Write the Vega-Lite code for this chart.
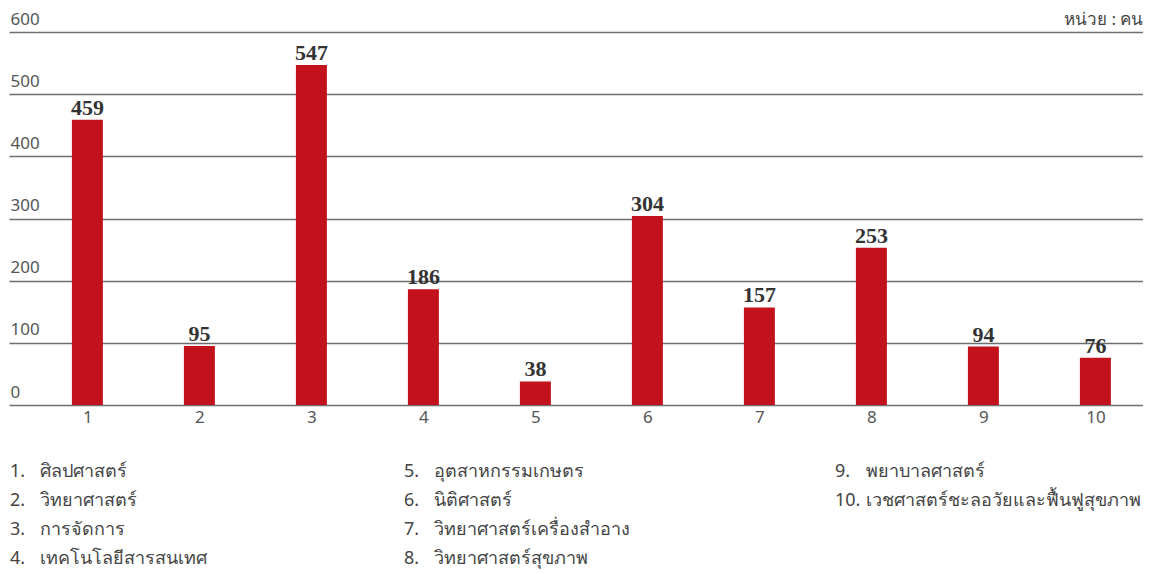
{
  "$schema": "https://vega.github.io/schema/vega-lite/v6.json",
  "padding": {"left": 9, "top": 10, "right": 0, "bottom": 0},
  "background": "white",
  "datasets": {
    "bars": [
      {"n": 1, "v": 459}, {"n": 2, "v": 95}, {"n": 3, "v": 547}, {"n": 4, "v": 186}, {"n": 5, "v": 38},
      {"n": 6, "v": 304}, {"n": 7, "v": 157}, {"n": 8, "v": 253}, {"n": 9, "v": 94}, {"n": 10, "v": 76}
    ],
    "legend": [
      {"col": 1, "row": 1, "num": "1.", "name": "ศิลปศาสตร์"},
      {"col": 1, "row": 2, "num": "2.", "name": "วิทยาศาสตร์"},
      {"col": 1, "row": 3, "num": "3.", "name": "การจัดการ"},
      {"col": 1, "row": 4, "num": "4.", "name": "เทคโนโลยีสารสนเทศ"},
      {"col": 2, "row": 1, "num": "5.", "name": "อุตสาหกรรมเกษตร"},
      {"col": 2, "row": 2, "num": "6.", "name": "นิติศาสตร์"},
      {"col": 2, "row": 3, "num": "7.", "name": "วิทยาศาสตร์เครื่องสำอาง"},
      {"col": 2, "row": 4, "num": "8.", "name": "วิทยาศาสตร์สุขภาพ"},
      {"col": 3, "row": 1, "num": "9.", "name": "พยาบาลศาสตร์"},
      {"col": 3, "row": 2, "num": "10.", "name": "เวชศาสตร์ชะลอวัยและฟื้นฟูสุขภาพ"}
    ]
  },
  "config": {
    "view": {"stroke": null},
    "font": "Noto Sans"
  },
  "bounds": "flush",
  "spacing": 53,
  "vconcat": [
    {
      "width": 1134,
      "height": 373,
      "data": {"name": "bars"},
      "encoding": {
        "x": {
          "field": "n", "type": "quantitative",
          "scale": {"domain": [0.3, 10.425], "nice": false, "zero": false, "padding": 0},
          "axis": {
            "values": [1, 2, 3, 4, 5, 6, 7, 8, 9, 10], "format": "d",
            "grid": false, "ticks": false, "domain": false, "title": null,
            "labelFontSize": 17, "labelColor": "#555555", "labelPadding": 4, "labelFont": "Noto Sans"
          }
        },
        "y": {
          "field": "v", "type": "quantitative",
          "scale": {"domain": [0, 600], "nice": false},
          "axis": {
            "values": [0, 100, 200, 300, 400, 500, 600],
            "grid": true, "gridColor": "#6e6e6e", "gridWidth": 1.5,
            "ticks": false, "domain": false,
            "labelAlign": "left", "labelBaseline": "alphabetic", "labelPadding": -1, "labelOffset": -8,
            "labelFontSize": 17, "labelColor": "#555555", "labelFont": "Noto Sans",
            "title": "หน่วย : คน", "titleAngle": 0, "titleAlign": "right", "titleBaseline": "alphabetic",
            "titleX": 1134, "titleY": -8, "titleFontSize": 17, "titleFontWeight": "normal", "titleColor": "#444444",
            "titleFont": "Noto Sans"
          }
        }
      },
      "layer": [
        {"mark": {"type": "bar", "size": 31, "color": "#C3121C"}},
        {
          "mark": {"type": "text", "baseline": "alphabetic", "dy": -5, "font": "Liberation Serif", "fontWeight": "bold", "fontSize": 22, "color": "#333333"},
          "encoding": {"text": {"field": "v", "type": "quantitative"}}
        }
      ]
    },
    {
      "bounds": "flush",
      "spacing": 0,
      "hconcat": [
        {
          "width": 394, "height": 115,
          "data": {"name": "legend"},
          "transform": [{"filter": "datum.col === 1"}],
          "encoding": {
            "x": {"value": 1},
            "y": {"field": "row", "type": "ordinal", "scale": {"type": "point", "padding": 0.5, "domain": [1, 2, 3, 4]}, "axis": null}
          },
          "layer": [
            {"mark": {"type": "text", "align": "left", "baseline": "middle", "fontSize": 18, "color": "#444444", "font": "Noto Sans"},
             "encoding": {"text": {"field": "num"}}},
            {"mark": {"type": "text", "align": "left", "baseline": "middle", "dx": 30, "fontSize": 18, "color": "#444444", "font": "Noto Sans"},
             "encoding": {"text": {"field": "name"}}}
          ]
        },
        {
          "width": 431, "height": 115,
          "data": {"name": "legend"},
          "transform": [{"filter": "datum.col === 2"}],
          "encoding": {
            "x": {"value": 1},
            "y": {"field": "row", "type": "ordinal", "scale": {"type": "point", "padding": 0.5, "domain": [1, 2, 3, 4]}, "axis": null}
          },
          "layer": [
            {"mark": {"type": "text", "align": "left", "baseline": "middle", "fontSize": 18, "color": "#444444", "font": "Noto Sans"},
             "encoding": {"text": {"field": "num"}}},
            {"mark": {"type": "text", "align": "left", "baseline": "middle", "dx": 30, "fontSize": 18, "color": "#444444", "font": "Noto Sans"},
             "encoding": {"text": {"field": "name"}}}
          ]
        },
        {
          "width": 308, "height": 115,
          "data": {"name": "legend"},
          "transform": [{"filter": "datum.col === 3"}],
          "encoding": {
            "x": {"value": 1},
            "y": {"field": "row", "type": "ordinal", "scale": {"type": "point", "padding": 0.5, "domain": [1, 2, 3, 4]}, "axis": null}
          },
          "layer": [
            {"mark": {"type": "text", "align": "left", "baseline": "middle", "fontSize": 18, "color": "#444444", "font": "Noto Sans"},
             "encoding": {"text": {"field": "num"}}},
            {"mark": {"type": "text", "align": "left", "baseline": "middle", "dx": 31, "fontSize": 18, "color": "#444444", "font": "Noto Sans"},
             "encoding": {"text": {"field": "name"}}}
          ]
        }
      ]
    }
  ]
}
